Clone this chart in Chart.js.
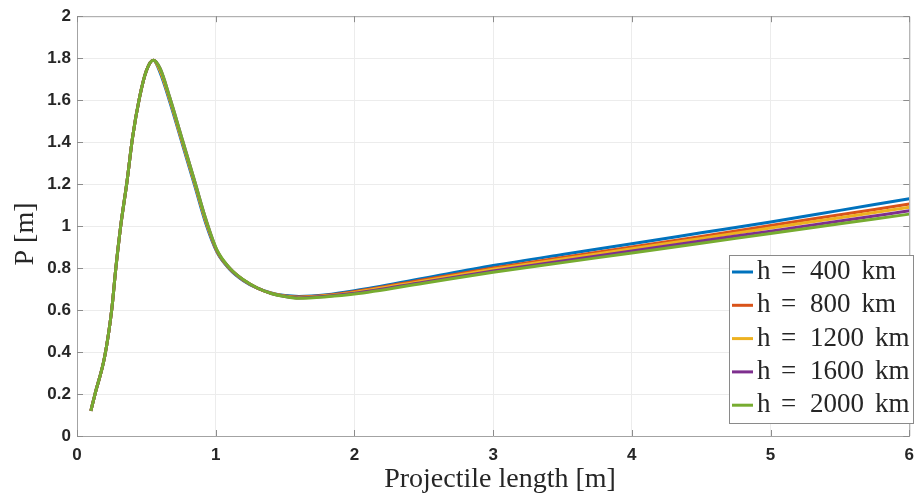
<!DOCTYPE html>
<html lang="en">
<head>
    <meta charset="UTF-8">
    <title>P vs projectile length</title>
    <script src="https://cdn.jsdelivr.net/npm/chart.js"></script>
    <style>
        body {
            margin: 0;
            padding: 0;
            background: white;
        }
        canvas {
            display: block;
        }
    </style>
</head>
<body>
    <canvas id="pChart" width="923" height="496"></canvas>

    <script>
        // projectile length [m], shared by all curves
        const lengths = [0.1, 0.13, 0.2, 0.25, 0.28, 0.315, 0.36, 0.4, 0.45, 0.5, 0.55, 0.6, 0.67, 0.76, 0.85, 0.93, 1.01,
                         1.1, 1.2, 1.3, 1.4, 1.5, 1.6, 1.8, 2.0, 2.5, 3.0, 3.5, 4.0, 4.5, 5.0, 5.5, 6.0];

        // P [m] for each altitude
        const p400  = [0.12, 0.2, 0.38, 0.6, 0.8, 1.0, 1.21, 1.42, 1.61, 1.74, 1.79, 1.73, 1.59, 1.39, 1.19, 1.01, 0.875,
                       0.795, 0.74, 0.704, 0.681, 0.669, 0.665, 0.673, 0.692, 0.752, 0.812, 0.865, 0.916, 0.968, 1.02, 1.075, 1.13];
        const p800  = [0.12, 0.2, 0.38, 0.6, 0.8, 1.0, 1.21, 1.42, 1.61, 1.74, 1.79, 1.74, 1.6, 1.4, 1.2, 1.02, 0.878,
                       0.798, 0.742, 0.705, 0.68, 0.667, 0.662, 0.67, 0.688, 0.745, 0.8, 0.851, 0.9, 0.951, 1.003, 1.054, 1.105];
        const p1200 = [0.12, 0.2, 0.38, 0.6, 0.8, 1.0, 1.21, 1.42, 1.61, 1.74, 1.79, 1.74, 1.6, 1.4, 1.2, 1.02, 0.88,
                       0.799, 0.743, 0.705, 0.68, 0.666, 0.66, 0.668, 0.684, 0.739, 0.794, 0.843, 0.892, 0.941, 0.991, 1.04, 1.09];
        const p1600 = [0.12, 0.2, 0.38, 0.6, 0.8, 1.0, 1.21, 1.42, 1.61, 1.74, 1.79, 1.75, 1.61, 1.41, 1.21, 1.03, 0.882,
                       0.8, 0.743, 0.705, 0.679, 0.665, 0.658, 0.666, 0.68, 0.733, 0.786, 0.834, 0.881, 0.929, 0.976, 1.024, 1.073];
        const p2000 = [0.12, 0.2, 0.38, 0.6, 0.8, 1.0, 1.21, 1.42, 1.61, 1.74, 1.79, 1.75, 1.61, 1.41, 1.21, 1.03, 0.885,
                       0.801, 0.744, 0.705, 0.679, 0.664, 0.656, 0.663, 0.676, 0.728, 0.78, 0.826, 0.872, 0.918, 0.965, 1.011, 1.057];

        const altitudes = ["400", "800", "1200", "1600", "2000"];
        const seriesColors = ["#0072BD", "#D95319", "#EDB120", "#7E2F8E", "#77AC30"];
        const seriesValues = [p400, p800, p1200, p1600, p2000];

        const xTicks = [0, 1, 2, 3, 4, 5, 6];
        const yTicks = [0, 0.2, 0.4, 0.6, 0.8, 1, 1.2, 1.4, 1.6, 1.8, 2];
        const yTickLabels = ["0", "0.2", "0.4", "0.6", "0.8", "1", "1.2", "1.4", "1.6", "1.8", "2"];

        const xTitle = "Projectile length [m]";
        const yTitle = "P [m]";

        const serif = "'Liberation Serif', 'Times New Roman', serif";
        const tickFont = { family: "'Liberation Sans', Arial, sans-serif", size: 17, weight: "bold" };

        // draws the box, the inward ticks, the axis titles and the legend
        const decorations = {
            id: "decorations",
            afterDraw(chart) {
                const ctx = chart.ctx;
                const a = chart.chartArea;
                const xs = chart.scales.x, ys = chart.scales.y;
                ctx.save();

                // top and right edges of the box
                ctx.strokeStyle = "#a3a3a3";
                ctx.lineWidth = 1;
                ctx.beginPath();
                ctx.moveTo(a.left, a.top + 0.5);
                ctx.lineTo(a.right + 0.5, a.top + 0.5);
                ctx.lineTo(a.right + 0.5, a.bottom);
                ctx.stroke();

                // small ticks pointing inwards
                ctx.strokeStyle = "#8c8c8c";
                ctx.beginPath();
                xTicks.forEach(v => {
                    const px = Math.round(xs.getPixelForValue(v)) + 0.5;
                    ctx.moveTo(px, a.bottom); ctx.lineTo(px, a.bottom - 6);
                    ctx.moveTo(px, a.top); ctx.lineTo(px, a.top + 6);
                });
                yTicks.forEach(v => {
                    const py = Math.round(ys.getPixelForValue(v)) + 0.5;
                    ctx.moveTo(a.left, py); ctx.lineTo(a.left + 6, py);
                    ctx.moveTo(a.right, py); ctx.lineTo(a.right - 6, py);
                });
                ctx.stroke();

                // axis titles
                ctx.fillStyle = "#262626";
                ctx.font = "28px " + serif;
                ctx.textAlign = "center";
                ctx.textBaseline = "middle";
                ctx.fillText(xTitle, 500, 480);
                ctx.save();
                ctx.translate(26, 234);
                ctx.rotate(-Math.PI / 2);
                ctx.fillText(yTitle, 0, 0);
                ctx.restore();

                // legend
                const lx = 729, ly = 255, lw = 184, lh = 168;
                ctx.fillStyle = "white";
                ctx.fillRect(lx, ly, lw, lh);
                ctx.strokeStyle = "#8a8a8a";
                ctx.strokeRect(lx + 0.5, ly + 0.5, lw, lh);
                ctx.font = "27px " + serif;
                ctx.textAlign = "left";
                altitudes.forEach((h, i) => {
                    const cy = 272 + i * 33.3;
                    ctx.strokeStyle = seriesColors[i];
                    ctx.lineWidth = 3;
                    ctx.beginPath();
                    ctx.moveTo(732, cy);
                    ctx.lineTo(753, cy);
                    ctx.stroke();
                    ctx.fillStyle = "#262626";
                    ctx.fillText("h", 757, cy);
                    ctx.fillText("=", 781, cy);
                    ctx.fillText(h, 810, cy);
                    const w = ctx.measureText(h).width;
                    ctx.fillText("km", 810 + w + 11, cy);
                });
                ctx.restore();
            }
        };

        const ctx = document.getElementById("pChart").getContext("2d");
        const chart = new Chart(ctx, {
            type: "line",
            data: {
                datasets: seriesValues.map((vals, i) => ({
                    label: "h = " + altitudes[i] + " km",
                    data: vals.map((v, j) => ({ x: lengths[j], y: v })),
                    borderColor: seriesColors[i],
                    borderWidth: 3,
                    pointRadius: 0,
                    fill: false,
                    cubicInterpolationMode: "monotone",
                    order: seriesValues.length - 1 - i // green ends on top
                }))
            },
            options: {
                responsive: false,
                animation: false,
                layout: { padding: { top: 14, right: 9, left: 0, bottom: 0 } },
                plugins: {
                    legend: { display: false },
                    tooltip: { enabled: false }
                },
                scales: {
                    x: {
                        type: "linear",
                        min: 0,
                        max: 6,
                        afterBuildTicks: s => { s.ticks = xTicks.map(v => ({ value: v })); },
                        afterFit: s => { s.height = 60; },
                        ticks: {
                            color: "#262626",
                            font: tickFont,
                            padding: 9,
                            maxRotation: 0,
                            callback: v => String(v)
                        },
                        grid: { color: "#ececec", drawTicks: false },
                        border: { color: "#a3a3a3" }
                    },
                    y: {
                        min: 0,
                        max: 2,
                        afterBuildTicks: s => { s.ticks = yTicks.map(v => ({ value: v })); },
                        afterFit: s => { s.width = 77; },
                        ticks: {
                            color: "#262626",
                            font: tickFont,
                            padding: 6,
                            callback: (v, i) => yTickLabels[i]
                        },
                        grid: { color: "#ececec", drawTicks: false },
                        border: { color: "#a3a3a3" }
                    }
                }
            },
            plugins: [decorations]
        });
    </script>
</body>
</html>
